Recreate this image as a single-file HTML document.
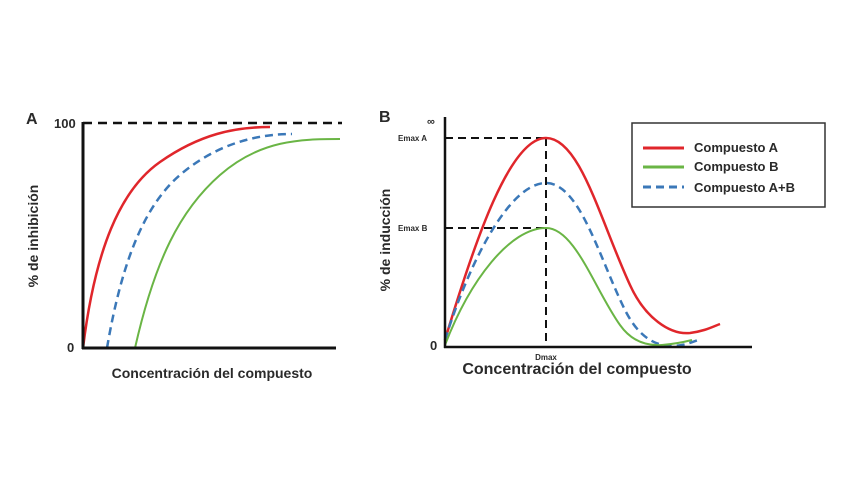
<!DOCTYPE html>
<html><head><meta charset="utf-8"><style>
html,body{margin:0;padding:0;background:#fff;}
svg{display:block;}
text{font-family:"Liberation Sans",sans-serif;font-weight:bold;fill:#2a2a2a;}
</style></head><body>
<svg width="850" height="495" viewBox="0 0 850 495">
<!-- Panel A -->
<text x="26" y="124" font-size="16">A</text>
<text x="54" y="128" font-size="13">100</text>
<text x="67" y="352" font-size="13">0</text>
<text transform="translate(38,236) rotate(-90)" font-size="14" text-anchor="middle">% de inhibición</text>
<text x="212" y="378" font-size="14" text-anchor="middle">Concentración del compuesto</text>
<line x1="83" y1="123" x2="342" y2="123" stroke="#111" stroke-width="2.5" stroke-dasharray="9,6"/>
<path d="M83,348 C95,250 120,190 160,162 C200,134 235,127 270,127" fill="none" stroke="#e0262b" stroke-width="2.5"/>
<path d="M107,348 C122,260 145,205 180,175 C215,145 255,134 292,134" fill="none" stroke="#3b78b8" stroke-width="2.5" stroke-dasharray="8,5"/>
<path d="M135,348 C155,260 180,210 220,175 C260,140 300,139 340,139" fill="none" stroke="#6ab545" stroke-width="2"/>
<line x1="83" y1="122" x2="83" y2="349" stroke="#111" stroke-width="3"/>
<line x1="82" y1="348" x2="336" y2="348" stroke="#111" stroke-width="3"/>

<!-- Panel B -->
<text x="379" y="122" font-size="16">B</text>
<text x="427" y="125" font-size="11">∞</text>
<text x="398" y="141" font-size="8">Emax A</text>
<text x="398" y="231" font-size="8">Emax B</text>
<text x="430" y="350" font-size="13">0</text>
<text x="546" y="360" font-size="8" text-anchor="middle">Dmax</text>
<text transform="translate(390,240) rotate(-90)" font-size="14" text-anchor="middle">% de inducción</text>
<text x="577" y="374" font-size="16" text-anchor="middle">Concentración del compuesto</text>
<line x1="445" y1="138" x2="546" y2="138" stroke="#111" stroke-width="2" stroke-dasharray="8,5"/>
<line x1="445" y1="228" x2="546" y2="228" stroke="#111" stroke-width="2" stroke-dasharray="8,5"/>
<line x1="546" y1="138" x2="546" y2="347" stroke="#111" stroke-width="2" stroke-dasharray="8,5"/>
<path d="M445,340 C475,240 510,138 546,138 C580,138 600,220 630,285 C645,318 670,335 690,333 C705,331 712,327 720,324" fill="none" stroke="#e0262b" stroke-width="2.5"/>
<path d="M445,340 C470,260 510,183 546,183 C580,183 600,260 625,310 C640,340 658,346 672,346 C684,346 692,342 698,340" fill="none" stroke="#3b78b8" stroke-width="2.5" stroke-dasharray="8,5"/>
<path d="M445,345 C470,280 510,228 546,228 C575,228 595,290 620,325 C632,342 648,346 662,345 C675,344 684,342 692,340" fill="none" stroke="#6ab545" stroke-width="2"/>
<line x1="445" y1="117" x2="445" y2="348" stroke="#111" stroke-width="2.5"/>
<line x1="444" y1="347" x2="752" y2="347" stroke="#111" stroke-width="2.5"/>

<!-- Legend -->
<rect x="632" y="123" width="193" height="84" fill="#fff" stroke="#333" stroke-width="1.5"/>
<line x1="643" y1="148" x2="684" y2="148" stroke="#e0262b" stroke-width="3"/>
<line x1="643" y1="167" x2="684" y2="167" stroke="#6ab545" stroke-width="3"/>
<line x1="643" y1="187" x2="684" y2="187" stroke="#3b78b8" stroke-width="3" stroke-dasharray="8,5"/>
<text x="694" y="152" font-size="13">Compuesto A</text>
<text x="694" y="171" font-size="13">Compuesto B</text>
<text x="694" y="192" font-size="13">Compuesto A+B</text>
</svg>
</body></html>
